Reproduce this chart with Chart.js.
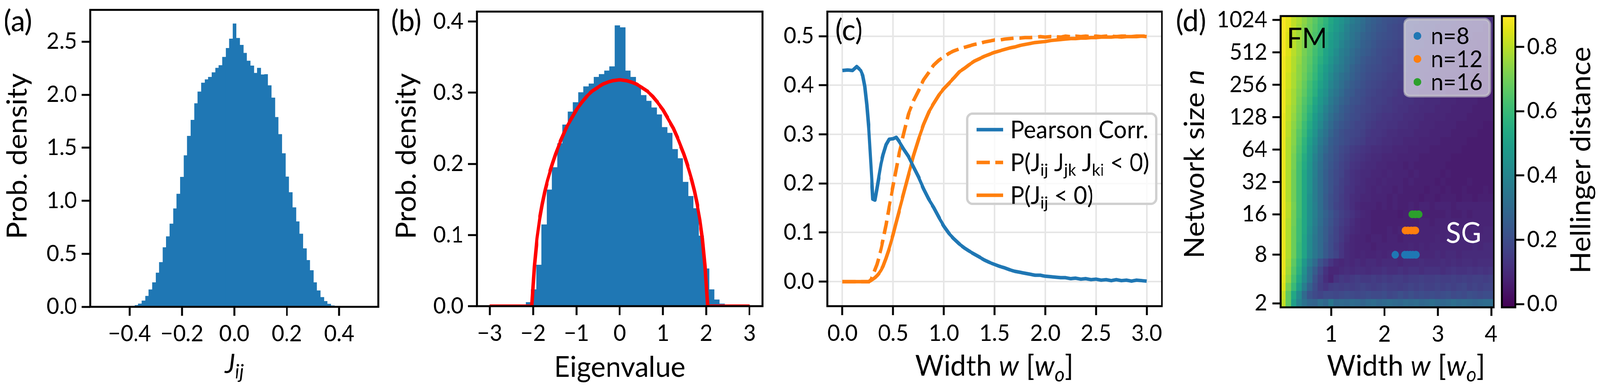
<!DOCTYPE html>
<html>
<head>
<meta charset="utf-8">
<script src="https://cdn.jsdelivr.net/npm/chart.js@4.4.1/dist/chart.umd.min.js"></script>
<style>
  html, body { margin: 0; padding: 0; background: #fff; overflow: hidden; }
  #fig { position: relative; width: 4255px; height: 991px; overflow: hidden; background: #fff; transform-origin: 0 0; }
  #fig canvas { position: absolute; top: 0; }
</style>
</head>
<body>
<div id="fig">
  <canvas id="pa" width="1020" height="991" style="left:0px;width:1020px;height:991px"></canvas>
  <canvas id="pb" width="1020" height="991" style="left:1020px;width:1020px;height:991px"></canvas>
  <canvas id="pc" width="1080" height="991" style="left:2040px;width:1080px;height:991px"></canvas>
  <canvas id="pd" width="870" height="991" style="left:3120px;width:870px;height:991px"></canvas>
  <canvas id="pcb" width="265" height="991" style="left:3990px;width:265px;height:991px"></canvas>
</div>
<script>
// ---------- (a) coupling histogram ----------
const aBinStart = -0.3935, aBinWidth = 0.01337;
const aDensity = [0.006,0.015,0.029,0.057,0.101,0.162,0.229,0.321,0.42,0.56,0.663,0.783,0.926,1.064,1.224,1.427,1.61,1.761,1.918,2.028,
  2.112,2.143,2.166,2.21,2.252,2.277,2.355,2.439,2.527,2.67,2.534,2.468,2.393,2.319,2.273,2.204,2.252,2.189,2.192,2.087,
  1.971,1.788,1.627,1.446,1.226,1.079,0.936,0.804,0.688,0.55,0.439,0.344,0.229,0.153,0.09,0.053,0.027,0.011];
const aXTicks = [-0.4, -0.2, 0, 0.2, 0.4];
const aYTicks = [0, 0.5, 1, 1.5, 2, 2.5];

// ---------- (b) eigenvalue histogram + semicircle ----------
const bBinStart = -2.166, bBinWidth = 0.1208;
const bDensity = [0.0054,0.0234,0.058,0.1146,0.1636,0.195,0.2286,0.255,0.2733,0.2864,0.3004,0.3086,0.3126,0.322,0.326,0.3309,0.3368,0.3944,0.3916,
  0.3309,0.322,0.31,0.2964,0.2884,0.279,0.2693,0.2514,0.2434,0.2206,0.2077,0.1744,0.1545,0.1374,0.0989,0.0527,0.0234,0.0091,0.0034];
const semiX = [-3,-2.03,-1.97,-1.91,-1.85,-1.79,-1.73,-1.67,-1.61,-1.55,-1.48,-1.36,-1.24,-1.12,-1.0,-0.88,-0.76,-0.64,-0.52,-0.39,-0.27,-0.15,-0.03,
  0.03,0.15,0.27,0.39,0.52,0.64,0.76,0.88,1.0,1.12,1.24,1.36,1.48,1.55,1.61,1.67,1.73,1.79,1.85,1.91,1.97,2.03,3];
const semiY = [0,0,0.056,0.095,0.122,0.143,0.161,0.176,0.189,0.201,0.214,0.233,0.25,0.263,0.276,0.286,0.295,0.302,0.307,0.312,0.315,0.317,0.318,
  0.318,0.317,0.315,0.312,0.307,0.302,0.295,0.286,0.276,0.263,0.25,0.233,0.214,0.201,0.189,0.176,0.161,0.143,0.122,0.095,0.056,0,0];
const bXTicks = [-3, -2, -1, 0, 1, 2, 3];
const bYTicks = [0, 0.1, 0.2, 0.3, 0.4];

// ---------- (c) curves vs width ----------
const cW = [0,0.05,0.1,0.14,0.18,0.2,0.22,0.24,0.26,0.28,0.3,0.32,0.34,0.36,0.38,0.4,0.43,0.46,0.5,0.53,0.56,0.6,0.65,0.7,0.75,0.8,0.85,0.9,0.95,
  1.0,1.05,1.1,1.15,1.2,1.25,1.3,1.35,1.4,1.45,1.5,1.55,1.6,1.65,1.7,1.75,1.8,1.85,1.9,1.95,2.0,2.05,2.1,2.15,2.2,2.25,2.3,2.35,2.4,2.45,2.5,
  2.55,2.6,2.65,2.7,2.75,2.8,2.85,2.9,2.95,3.0];
const cPearson = [0.430,0.431,0.430,0.438,0.430,0.420,0.398,0.36,0.31,0.24,0.168,0.166,0.19,0.215,0.24,0.258,0.279,0.29,0.291,0.294,0.285,0.271,0.255,0.234,0.213,0.189,0.168,0.151,0.131,
  0.113,0.098,0.087,0.077,0.069,0.062,0.056,0.05,0.044,0.039,0.035,0.031,0.028,0.024,0.021,0.019,0.017,0.015,0.013,0.013,0.011,0.010,0.009,0.008,0.008,0.006,0.007,0.005,0.006,0.004,0.005,
  0.003,0.004,0.002,0.004,0.002,0.003,0.001,0.003,0.002,0.001];
const cTriangle = [0,0,0,0,0,0,0,0,0,0.004,0.013,0.024,0.035,0.05,0.066,0.085,0.116,0.152,0.196,0.229,0.263,0.298,0.341,0.368,0.389,0.411,0.426,0.441,0.451,
  0.458,0.465,0.470,0.474,0.477,0.480,0.483,0.485,0.488,0.490,0.492,0.492,0.494,0.495,0.496,0.496,0.497,0.497,0.498,0.499,0.498,0.499,0.499,0.498,0.500,0.499,0.500,0.499,0.500,0.499,0.500,
  0.499,0.500,0.500,0.499,0.500,0.500,0.499,0.500,0.500,0.500];
const cNegative = [0,0,0,0,0,0,0,0,0,0.002,0.005,0.008,0.012,0.017,0.023,0.031,0.048,0.067,0.096,0.121,0.145,0.177,0.217,0.256,0.29,0.32,0.345,0.363,0.38,
  0.393,0.404,0.415,0.427,0.434,0.442,0.449,0.454,0.459,0.463,0.467,0.470,0.473,0.476,0.478,0.481,0.483,0.485,0.487,0.488,0.489,0.491,0.492,0.493,0.494,0.495,0.495,0.496,0.496,0.497,0.497,
  0.498,0.498,0.498,0.499,0.498,0.499,0.499,0.499,0.500,0.499];
const cXTicks = [0, 0.5, 1, 1.5, 2, 2.5, 3];
const cYTicks = [0, 0.1, 0.2, 0.3, 0.4, 0.5];

// ---------- (d) Hellinger distance map ----------
const hmW = [0.1,0.2,0.3,0.4,0.5,0.6,0.7,0.8,0.9,1.0,1.1,1.2,1.3,1.4,1.5,1.6,1.7,1.8,1.9,2.0,
  2.1,2.2,2.3,2.4,2.5,2.6,2.7,2.8,2.9,3.0,3.1,3.2,3.3,3.4,3.5,3.6,3.7,3.8,3.9,4.0];
const nTickRows = [0, 6, 11, 15, 19, 23, 27, 31, 35];
const nTickLabels = ['2', '8', '16', '32', '64', '128', '256', '512', '1024'];
// one row per network size, bottom (n = 2) to top (n = 1024)
const hellinger = [
  [0.81,0.67,0.50,0.39,0.33,0.29,0.28,0.32,0.29,0.35,0.29,0.30,0.29,0.31,0.30,0.28,0.30,0.31,0.29,0.30,0.31,0.30,0.29,0.31,0.30,0.31,0.29,0.30,0.32,0.30,0.29,0.30,0.32,0.30,0.31,0.30,0.29,0.30,0.31,0.31],
  [0.82,0.67,0.53,0.42,0.30,0.22,0.19,0.17,0.19,0.19,0.18,0.19,0.20,0.19,0.18,0.19,0.20,0.19,0.19,0.20,0.18,0.19,0.21,0.19,0.21,0.19,0.20,0.19,0.20,0.19,0.20,0.21,0.19,0.20,0.19,0.21,0.20,0.19,0.20,0.20],
  [0.85,0.71,0.60,0.49,0.37,0.27,0.20,0.15,0.13,0.15,0.16,0.15,0.16,0.15,0.16,0.17,0.16,0.15,0.16,0.17,0.16,0.16,0.15,0.16,0.17,0.16,0.17,0.16,0.16,0.17,0.16,0.17,0.16,0.17,0.18,0.16,0.17,0.16,0.17,0.17],
  [0.86,0.75,0.63,0.53,0.42,0.32,0.22,0.16,0.11,0.08,0.12,0.14,0.13,0.14,0.15,0.14,0.14,0.15,0.14,0.15,0.14,0.15,0.15,0.14,0.15,0.15,0.16,0.15,0.15,0.16,0.15,0.15,0.16,0.15,0.16,0.15,0.16,0.16,0.15,0.16],
  [0.87,0.77,0.65,0.56,0.44,0.33,0.25,0.18,0.12,0.09,0.09,0.10,0.11,0.10,0.11,0.11,0.10,0.11,0.11,0.12,0.11,0.11,0.12,0.11,0.12,0.12,0.11,0.12,0.12,0.12,0.11,0.12,0.13,0.12,0.12,0.13,0.12,0.13,0.12,0.13],
  [0.87,0.78,0.67,0.58,0.47,0.37,0.30,0.22,0.17,0.13,0.10,0.09,0.10,0.09,0.10,0.09,0.10,0.10,0.09,0.10,0.10,0.10,0.09,0.10,0.10,0.10,0.11,0.10,0.10,0.10,0.11,0.10,0.11,0.10,0.11,0.11,0.10,0.11,0.11,0.11],
  [0.87,0.79,0.69,0.60,0.52,0.41,0.35,0.30,0.24,0.20,0.17,0.13,0.10,0.09,0.08,0.09,0.08,0.08,0.09,0.08,0.09,0.08,0.09,0.08,0.09,0.09,0.09,0.09,0.09,0.10,0.09,0.10,0.10,0.09,0.10,0.10,0.10,0.10,0.10,0.10],
  [0.87,0.79,0.69,0.60,0.52,0.42,0.35,0.30,0.24,0.20,0.16,0.13,0.10,0.09,0.08,0.08,0.08,0.07,0.08,0.08,0.08,0.08,0.08,0.08,0.09,0.08,0.09,0.08,0.09,0.09,0.09,0.09,0.09,0.09,0.09,0.09,0.10,0.09,0.10,0.10],
  [0.87,0.79,0.69,0.61,0.52,0.42,0.35,0.30,0.25,0.20,0.17,0.14,0.11,0.09,0.08,0.08,0.07,0.08,0.08,0.07,0.08,0.08,0.07,0.08,0.08,0.08,0.08,0.08,0.08,0.09,0.08,0.09,0.09,0.09,0.09,0.09,0.09,0.09,0.09,0.09],
  [0.87,0.79,0.69,0.61,0.53,0.43,0.36,0.30,0.25,0.21,0.17,0.14,0.12,0.10,0.09,0.08,0.08,0.07,0.07,0.07,0.08,0.07,0.08,0.07,0.08,0.08,0.08,0.08,0.08,0.08,0.08,0.08,0.08,0.09,0.08,0.08,0.09,0.08,0.09,0.09],
  [0.87,0.79,0.70,0.61,0.53,0.44,0.37,0.31,0.26,0.22,0.18,0.15,0.13,0.11,0.09,0.08,0.08,0.07,0.07,0.07,0.07,0.07,0.07,0.07,0.07,0.07,0.08,0.08,0.07,0.08,0.08,0.08,0.08,0.08,0.08,0.08,0.08,0.08,0.08,0.08],
  [0.87,0.80,0.70,0.62,0.53,0.44,0.38,0.32,0.27,0.23,0.19,0.16,0.14,0.12,0.10,0.09,0.08,0.07,0.07,0.07,0.07,0.07,0.06,0.07,0.07,0.07,0.07,0.07,0.07,0.07,0.07,0.08,0.07,0.07,0.08,0.07,0.08,0.08,0.08,0.08],
  [0.87,0.80,0.71,0.62,0.53,0.44,0.38,0.31,0.25,0.21,0.17,0.15,0.13,0.11,0.09,0.08,0.08,0.08,0.07,0.08,0.07,0.08,0.07,0.07,0.08,0.07,0.08,0.08,0.07,0.08,0.08,0.08,0.07,0.08,0.08,0.08,0.08,0.08,0.08,0.08],
  [0.87,0.79,0.70,0.62,0.53,0.44,0.37,0.31,0.25,0.21,0.18,0.15,0.13,0.11,0.10,0.09,0.09,0.08,0.08,0.08,0.07,0.08,0.07,0.07,0.07,0.07,0.06,0.07,0.07,0.06,0.07,0.07,0.07,0.06,0.07,0.07,0.06,0.07,0.07,0.07],
  [0.87,0.79,0.70,0.62,0.53,0.45,0.37,0.31,0.26,0.22,0.18,0.16,0.13,0.12,0.10,0.10,0.09,0.08,0.09,0.08,0.08,0.07,0.08,0.07,0.07,0.07,0.07,0.06,0.07,0.07,0.06,0.07,0.06,0.06,0.07,0.06,0.06,0.06,0.07,0.06],
  [0.87,0.79,0.70,0.62,0.53,0.45,0.37,0.31,0.26,0.22,0.19,0.16,0.14,0.12,0.11,0.10,0.09,0.09,0.08,0.09,0.08,0.08,0.08,0.07,0.08,0.07,0.07,0.07,0.07,0.06,0.07,0.06,0.06,0.06,0.06,0.07,0.06,0.06,0.06,0.06],
  [0.87,0.79,0.70,0.62,0.53,0.45,0.38,0.31,0.26,0.22,0.19,0.17,0.14,0.12,0.11,0.10,0.10,0.09,0.09,0.08,0.09,0.08,0.08,0.08,0.07,0.08,0.07,0.07,0.07,0.07,0.06,0.07,0.06,0.06,0.06,0.06,0.06,0.06,0.06,0.06],
  [0.87,0.79,0.71,0.62,0.54,0.46,0.38,0.32,0.27,0.23,0.20,0.17,0.15,0.13,0.12,0.11,0.10,0.10,0.09,0.09,0.08,0.08,0.08,0.07,0.08,0.07,0.07,0.07,0.07,0.07,0.07,0.06,0.06,0.06,0.06,0.06,0.06,0.06,0.06,0.06],
  [0.87,0.79,0.71,0.63,0.55,0.47,0.39,0.33,0.27,0.24,0.21,0.18,0.16,0.14,0.13,0.12,0.11,0.10,0.10,0.09,0.09,0.09,0.08,0.08,0.08,0.08,0.07,0.07,0.07,0.07,0.07,0.07,0.06,0.06,0.06,0.06,0.06,0.06,0.06,0.06],
  [0.87,0.79,0.72,0.64,0.57,0.48,0.41,0.34,0.29,0.25,0.22,0.19,0.17,0.15,0.14,0.13,0.12,0.11,0.11,0.10,0.10,0.09,0.09,0.09,0.08,0.08,0.08,0.08,0.07,0.07,0.07,0.07,0.07,0.07,0.06,0.06,0.06,0.06,0.06,0.06],
  [0.87,0.79,0.73,0.65,0.58,0.50,0.43,0.36,0.31,0.26,0.23,0.21,0.19,0.17,0.16,0.15,0.13,0.13,0.12,0.11,0.11,0.10,0.10,0.09,0.09,0.09,0.08,0.08,0.08,0.08,0.07,0.07,0.07,0.07,0.07,0.06,0.06,0.06,0.06,0.06],
  [0.87,0.80,0.73,0.66,0.60,0.52,0.45,0.38,0.33,0.28,0.24,0.21,0.19,0.18,0.17,0.16,0.14,0.13,0.13,0.12,0.11,0.11,0.10,0.10,0.10,0.09,0.09,0.09,0.08,0.08,0.08,0.08,0.07,0.07,0.07,0.07,0.07,0.06,0.06,0.06],
  [0.87,0.80,0.74,0.68,0.61,0.54,0.47,0.41,0.35,0.30,0.26,0.23,0.21,0.19,0.17,0.17,0.15,0.14,0.13,0.13,0.12,0.12,0.11,0.11,0.10,0.10,0.09,0.09,0.09,0.08,0.08,0.08,0.08,0.07,0.07,0.07,0.07,0.07,0.06,0.06],
  [0.87,0.81,0.75,0.69,0.63,0.56,0.49,0.43,0.37,0.32,0.28,0.25,0.22,0.20,0.19,0.17,0.16,0.15,0.14,0.13,0.13,0.12,0.12,0.11,0.11,0.10,0.10,0.09,0.09,0.09,0.09,0.08,0.08,0.08,0.08,0.07,0.07,0.07,0.07,0.07],
  [0.88,0.81,0.76,0.70,0.64,0.58,0.51,0.45,0.39,0.34,0.30,0.26,0.23,0.21,0.19,0.18,0.17,0.16,0.15,0.14,0.14,0.13,0.12,0.12,0.11,0.11,0.10,0.10,0.10,0.09,0.09,0.09,0.08,0.08,0.08,0.08,0.07,0.07,0.07,0.07],
  [0.88,0.82,0.77,0.71,0.65,0.60,0.53,0.47,0.42,0.36,0.32,0.28,0.25,0.22,0.21,0.19,0.17,0.16,0.16,0.15,0.14,0.13,0.13,0.12,0.12,0.11,0.11,0.10,0.10,0.10,0.09,0.09,0.09,0.08,0.08,0.08,0.08,0.07,0.07,0.07],
  [0.88,0.82,0.77,0.72,0.67,0.61,0.56,0.49,0.44,0.38,0.34,0.30,0.26,0.24,0.21,0.20,0.18,0.17,0.16,0.15,0.15,0.14,0.13,0.13,0.12,0.12,0.11,0.11,0.10,0.10,0.10,0.09,0.09,0.09,0.09,0.08,0.08,0.08,0.08,0.07],
  [0.88,0.83,0.78,0.73,0.68,0.62,0.57,0.51,0.46,0.40,0.36,0.32,0.28,0.25,0.23,0.21,0.19,0.18,0.17,0.16,0.15,0.15,0.14,0.13,0.13,0.12,0.12,0.11,0.11,0.11,0.10,0.10,0.10,0.09,0.09,0.09,0.08,0.08,0.08,0.08],
  [0.88,0.83,0.78,0.74,0.69,0.64,0.59,0.53,0.47,0.42,0.37,0.33,0.30,0.27,0.24,0.22,0.20,0.19,0.18,0.17,0.16,0.15,0.15,0.14,0.14,0.13,0.13,0.12,0.12,0.11,0.11,0.10,0.10,0.10,0.09,0.09,0.09,0.09,0.08,0.08],
  [0.88,0.84,0.79,0.74,0.70,0.65,0.60,0.54,0.49,0.44,0.39,0.36,0.32,0.28,0.25,0.23,0.21,0.20,0.19,0.18,0.17,0.16,0.15,0.15,0.14,0.14,0.13,0.13,0.12,0.12,0.11,0.11,0.11,0.10,0.10,0.10,0.09,0.09,0.09,0.09],
  [0.88,0.84,0.79,0.75,0.70,0.66,0.61,0.56,0.51,0.46,0.41,0.37,0.33,0.30,0.27,0.24,0.22,0.21,0.20,0.18,0.17,0.17,0.16,0.15,0.15,0.14,0.14,0.13,0.13,0.12,0.12,0.11,0.11,0.11,0.10,0.10,0.10,0.10,0.09,0.09],
  [0.89,0.85,0.80,0.76,0.71,0.67,0.62,0.58,0.52,0.48,0.43,0.38,0.35,0.31,0.28,0.26,0.24,0.22,0.20,0.19,0.18,0.17,0.16,0.16,0.15,0.15,0.14,0.14,0.13,0.13,0.12,0.12,0.12,0.11,0.11,0.11,0.10,0.10,0.10,0.10],
  [0.89,0.85,0.80,0.76,0.72,0.68,0.63,0.59,0.54,0.49,0.45,0.40,0.36,0.33,0.30,0.27,0.25,0.23,0.21,0.20,0.19,0.18,0.17,0.16,0.16,0.15,0.15,0.14,0.14,0.13,0.13,0.12,0.12,0.12,0.11,0.11,0.11,0.10,0.10,0.10],
  [0.89,0.85,0.80,0.77,0.73,0.68,0.64,0.60,0.55,0.50,0.46,0.42,0.38,0.34,0.31,0.28,0.26,0.24,0.22,0.21,0.20,0.19,0.18,0.17,0.16,0.16,0.15,0.15,0.14,0.14,0.14,0.13,0.13,0.12,0.12,0.12,0.11,0.11,0.11,0.10],
  [0.89,0.86,0.81,0.77,0.73,0.69,0.65,0.61,0.57,0.52,0.48,0.44,0.39,0.35,0.33,0.30,0.27,0.25,0.23,0.22,0.20,0.19,0.18,0.17,0.17,0.16,0.16,0.15,0.15,0.14,0.14,0.14,0.13,0.13,0.13,0.12,0.12,0.12,0.11,0.11],
  [0.89,0.86,0.81,0.78,0.74,0.70,0.66,0.62,0.58,0.53,0.49,0.45,0.41,0.37,0.34,0.31,0.28,0.26,0.24,0.22,0.21,0.20,0.19,0.18,0.17,0.17,0.16,0.16,0.15,0.15,0.14,0.14,0.14,0.13,0.13,0.13,0.12,0.12,0.12,0.11]
];
const sgRows = [6, 9, 11];               // rows of n = 8, 12, 16
const sgN8 = [2.20, 2.38, 2.43, 2.48, 2.53, 2.59];
const sgN12 = [2.39, 2.44, 2.50, 2.55, 2.58];
const sgN16 = [2.52, 2.58, 2.64];
const dXTicks = [1, 2, 3, 4];
const cbMin = -0.01, cbMax = 0.896;
const cbTicks = [0, 0.2, 0.4, 0.6, 0.8];

// ---------- helpers ----------
const BLUE = '#1f77b4', ORANGE = '#ff7f0e', GREEN = '#2ca02c';
const viridisStops = ['#440154','#471365','#482475','#463480','#414487','#3b528b','#355f8d','#2f6c8e','#2a788e','#25848e','#21918c',
  '#1e9c89','#22a884','#2fb47c','#44bf70','#5ec962','#7ad151','#9bd93c','#bddf26','#dfe318','#fde725'];
const viridisRgb = viridisStops.map(h => [1, 3, 5].map(i => parseInt(h.slice(i, i + 2), 16)));
function viridis(v) {
  const t = Math.min(1, Math.max(0, (v - cbMin) / (cbMax - cbMin))) * (viridisRgb.length - 1);
  const i = Math.min(Math.floor(t), viridisRgb.length - 2), f = t - i;
  const a = viridisRgb[i], b = viridisRgb[i + 1];
  return 'rgb(' + a.map((c, k) => Math.round(c + (b[k] - c) * f)).join(',') + ')';
}
const minus = s => s.replace('-', '\u2212');
const fmt1 = v => minus(v.toFixed(1));
const fmt0 = v => minus(String(v));

// the figure is laid out at 4255 x 991 and fitted to the actual window
const fig = document.getElementById('fig');
fig.style.transform = 'scale(' + (window.innerWidth / 4255) + ',' + (window.innerHeight / 991) + ')';

function axis(min, max, ticks, fmt, size, opts) {
  opts = opts || {};
  return {
    type: 'linear', min, max, offset: false,
    position: opts.position,
    afterBuildTicks: s => { s.ticks = ticks.map(v => ({ value: v })); },
    afterFit: s => {
      if (s.isHorizontal()) s.height = size; else s.width = size;
      s.paddingLeft = s.paddingRight = s.paddingTop = s.paddingBottom = 0;
    },
    grid: {
      offset: false, drawOnChartArea: !!opts.grid, color: '#e6e6e6', lineWidth: 4,
      drawTicks: true, tickLength: opts.tl || 23, tickWidth: 5, tickColor: '#000'
    },
    border: { display: false },
    ticks: {
      color: '#000', font: { family: 'Lato', size: 58 }, padding: opts.pad || 12,
      callback: fmt, maxRotation: 0, autoSkip: false
    }
  };
}

function rich(ctx, runs, x, y, size, align, color, subScale) {
  const ss = subScale || 0.7;
  const fontFor = k => (k.indexOf('i') >= 0 ? 'italic ' : '') + Math.round(k.indexOf('s') >= 0 ? size * ss : size) + 'px Lato';
  let w = 0;
  runs.forEach(([t, k]) => { ctx.font = fontFor(k); w += ctx.measureText(t).width; });
  let cx = align === 'center' ? x - w / 2 : (align === 'right' ? x - w : x);
  ctx.fillStyle = color || '#000';
  ctx.textAlign = 'left';
  ctx.textBaseline = 'alphabetic';
  runs.forEach(([t, k]) => {
    ctx.font = fontFor(k);
    ctx.fillText(t, cx, y + (k.indexOf('s') >= 0 ? size * 0.2 : 0));
    cx += ctx.measureText(t).width;
  });
}
function richUp(ctx, runs, x, y, size) {
  ctx.save();
  ctx.translate(x, y);
  ctx.rotate(-Math.PI / 2);
  rich(ctx, runs, 0, 0, size, 'center');
  ctx.restore();
}
function roundBox(ctx, x0, y0, x1, y1, r, fill, stroke, lw) {
  ctx.beginPath();
  ctx.roundRect(x0, y0, x1 - x0, y1 - y0, r);
  ctx.fillStyle = fill; ctx.fill();
  ctx.lineWidth = lw; ctx.strokeStyle = stroke; ctx.stroke();
}
function deco(draw) {
  return {
    id: 'deco',
    afterDraw(chart) {
      const { ctx, chartArea: a } = chart;
      ctx.save();
      ctx.lineWidth = 5; ctx.strokeStyle = '#000';
      ctx.strokeRect(a.left, a.top, a.right - a.left, a.bottom - a.top);
      draw(ctx, chart);
      ctx.restore();
    }
  };
}
function base(padding, scales) {
  return {
    responsive: false, devicePixelRatio: 1, animation: false,
    layout: { padding },
    plugins: { legend: { display: false }, tooltip: { enabled: false } },
    scales
  };
}

Chart.defaults.font.family = 'Lato';
Chart.defaults.color = '#000';

const TITLE = 74, LABEL = 76;
const widthTitle = [['Width ', ''], ['w', 'i'], [' [', ''], ['w', 'i'], ['o', 'si'], [']', '']];

// ---------- (a) ----------
new Chart(document.getElementById('pa'), {
  type: 'bar',
  data: { datasets: [{
    data: aDensity.map((h, i) => ({ x: aBinStart + (i + 0.5) * aBinWidth, y: h })),
    backgroundColor: BLUE, borderWidth: 0, barPercentage: 1, categoryPercentage: 1, inflateAmount: 0.4
  }] },
  options: base({ left: 0, top: 25.3, right: 13.5, bottom: 0 }, {
    x: axis(-0.55, 0.55, aXTicks, fmt1, 205.3),
    y: axis(0, 2.8, aYTicks, fmt1, 240)
  }),
  plugins: [deco(ctx => {
    rich(ctx, [['(a)', '']], 10, 80, LABEL, 'left');
    richUp(ctx, [['Prob. density', '']], 71, 400, TITLE);
    rich(ctx, [['J', 'i'], ['ij', 'si']], 623, 955, 68, 'center', '#000', 0.75);
  })]
});

// ---------- (b) ----------
new Chart(document.getElementById('pb'), {
  type: 'bar',
  data: { datasets: [
    { type: 'line', data: semiX.map((x, i) => ({ x, y: semiY[i] })), borderColor: '#ff0000', borderWidth: 9,
      pointRadius: 0, fill: false, order: 0, borderJoinStyle: 'round' },
    { data: bDensity.map((h, i) => ({ x: bBinStart + (i + 0.5) * bBinWidth, y: h })),
      backgroundColor: BLUE, borderWidth: 0, barPercentage: 1, categoryPercentage: 1, inflateAmount: 0.4, order: 1 }
  ] },
  options: base({ left: 0, top: 29.7, right: 12, bottom: 0 }, {
    x: axis(-3.3, 3.3, bXTicks, fmt0, 207),
    y: axis(0, 0.414, bYTicks, fmt1, 248)
  }),
  plugins: [deco(ctx => {
    rich(ctx, [['(b)', '']], 20, 80, LABEL, 'left');
    richUp(ctx, [['Prob. density', '']], 85, 400, TITLE);
    rich(ctx, [['Eigenvalue', '']], 628, 965, TITLE, 'center');
  })]
});

// ---------- (c) ----------
const cLegend = [
  { color: BLUE, dash: [], runs: [['Pearson Corr.', '']] },
  { color: ORANGE, dash: [35, 15], runs: [['P(J', ''], ['ij', 's'], [' J', ''], ['jk', 's'], [' J', ''], ['ki', 's'], [' < 0)', '']] },
  { color: ORANGE, dash: [], runs: [['P(J', ''], ['ij', 's'], [' < 0)', '']] }
];
new Chart(document.getElementById('pc'), {
  type: 'line',
  data: { datasets: [
    { label: 'Pearson Corr.', data: cW.map((w, i) => ({ x: w, y: cPearson[i] })), borderColor: BLUE, borderWidth: 9, pointRadius: 0, borderJoinStyle: 'round' },
    { label: 'P(JijJjkJki<0)', data: cW.map((w, i) => ({ x: w, y: cTriangle[i] })), borderColor: ORANGE, borderWidth: 9, pointRadius: 0, borderDash: [35, 15] },
    { label: 'P(Jij<0)', data: cW.map((w, i) => ({ x: w, y: cNegative[i] })), borderColor: ORANGE, borderWidth: 9, pointRadius: 0, borderJoinStyle: 'round' }
  ] },
  options: base({ left: 0, top: 29.7, right: 30, bottom: 0 }, {
    x: axis(-0.15, 3.15, cXTicks, fmt1, 207, { grid: true }),
    y: axis(-0.05, 0.55, cYTicks, fmt1, 160, { grid: true })
  }),
  plugins: [deco(ctx => {
    rich(ctx, [['(c)', '']], 181, 103, LABEL, 'left');
    rich(ctx, widthTitle, 604, 962, TITLE, 'center');
    roundBox(ctx, 532, 291, 1035, 522, 14, 'rgba(255,255,255,0.8)', '#d0d0d0', 6);
    cLegend.forEach((e, i) => {
      const y = 332 + i * 84;
      ctx.beginPath();
      ctx.setLineDash(e.dash);
      ctx.lineWidth = 9; ctx.strokeStyle = e.color; ctx.lineCap = 'butt';
      ctx.moveTo(557, y); ctx.lineTo(628, y); ctx.stroke();
      ctx.setLineDash([]);
      rich(ctx, e.runs, 647, y + 22, 62, 'left');
    });
  })]
});

// ---------- (d) ----------
const hmDatasets = hellinger.map((row, r) => ({
  type: 'bar',
  data: row.map((v, j) => ({ x: hmW[j], y: [r - 0.5, r + 0.5] })),
  backgroundColor: row.map(v => viridis(v)),
  borderWidth: 0, barPercentage: 1, categoryPercentage: 1, grouped: false, inflateAmount: 0.6, order: 2
}));
const sgSets = [[sgN8, BLUE, 'n=8'], [sgN12, ORANGE, 'n=12'], [sgN16, GREEN, 'n=16']];
const sgDatasets = sgSets.map(([ws, color, label], k) => ({
  type: 'scatter', label,
  data: ws.map(w => ({ x: w, y: sgRows[k] })),
  backgroundColor: color, borderWidth: 0, pointRadius: 10, order: 0
}));
new Chart(document.getElementById('pd'), {
  type: 'bar',
  data: { datasets: hmDatasets.concat(sgDatasets) },
  options: base({ left: 0, top: 41.1, right: 17.4, bottom: 0 }, {
    x: axis(0.05, 4.05, dXTicks, fmt0, 204, { tl: 22 }),
    y: axis(-0.5, 35.5, nTickRows, v => nTickLabels[nTickRows.indexOf(v)], 285.4, { tl: 22, pad: 13 })
  }),
  plugins: [deco(ctx => {
    rich(ctx, [['(d)', '']], 7, 80, LABEL, 'left');
    richUp(ctx, [['Network size ', ''], ['n', 'i']], 82, 420, TITLE);
    rich(ctx, widthTitle, 619, 962, TITLE, 'center');
    rich(ctx, [['FM', '']], 302, 123, 72, 'left');
    rich(ctx, [['SG', '']], 725, 622, 74, 'left', '#ffffff');
    roundBox(ctx, 615, 49, 842, 246, 14, 'rgba(255,255,255,0.6)', 'rgba(204,204,204,0.6)', 7);
    sgSets.forEach(([ws, color, label], i) => {
      const y = 92 + i * 59;
      ctx.beginPath(); ctx.arc(649.5, y, 10, 0, Math.PI * 2); ctx.fillStyle = color; ctx.fill();
      rich(ctx, [[label, '']], 685, y + 21, 60, 'left');
    });
  })]
});

// ---------- colorbar ----------
new Chart(document.getElementById('pcb'), {
  type: 'bar',
  data: { labels: ['cb'], datasets: [{
    data: [[cbMin, cbMax]],
    backgroundColor: ctx => {
      const a = ctx.chart.chartArea;
      if (!a) return viridis(0.4);
      const g = ctx.chart.ctx.createLinearGradient(0, a.bottom, 0, a.top);
      viridisStops.forEach((c, i) => g.addColorStop(i / (viridisStops.length - 1), c));
      return g;
    },
    borderWidth: 0, barPercentage: 1, categoryPercentage: 1
  }] },
  options: base({ left: 3.8, top: 41.1, right: 0, bottom: 204 }, {
    x: { display: false },
    y: axis(cbMin, cbMax, cbTicks, fmt1, 224.9, { position: 'right', pad: 8 })
  }),
  plugins: [deco(ctx => {
    richUp(ctx, [['Hellinger distance', '']], 239, 410, TITLE);
  })]
});
</script>
</body>
</html>
